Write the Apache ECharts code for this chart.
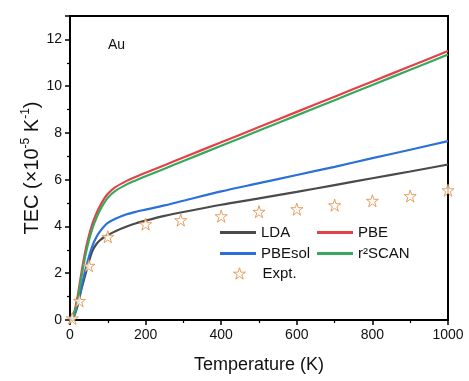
<!DOCTYPE html>
<html>
<head>
<meta charset="utf-8">
<script src="https://cdn.jsdelivr.net/npm/echarts@6/dist/echarts.min.js"></script>
<style>
  html, body { margin: 0; padding: 0; background: #fff; }
  #chart { width: 469px; height: 381px; }
</style>
</head>
<body>
<div id="chart"></div>
<script>
// temperature grid (K) for the calculated curves
const temps = [5, 10, 20, 30, 40, 50, 60, 70, 80, 90, 100, 120, 150, 175, 200, 250, 300, 400, 500, 600, 700, 800, 900, 1000];
// TEC in 1e-5 K^-1
const lda    = [0.03, 0.12, 0.6, 1.3, 1.9, 2.5, 2.98, 3.25, 3.42, 3.54, 3.63, 3.8, 4.0, 4.14, 4.25, 4.45, 4.62, 4.93, 5.2, 5.48, 5.77, 6.06, 6.35, 6.65];
const pbe    = [0.05, 0.25, 1.0, 2.0, 2.9, 3.6, 4.15, 4.57, 4.9, 5.18, 5.4, 5.68, 5.95, 6.13, 6.3, 6.62, 6.95, 7.6, 8.25, 8.9, 9.55, 10.2, 10.85, 11.5];
const pbesol = [0.03, 0.15, 0.7, 1.4, 2.1, 2.7, 3.2, 3.55, 3.8, 4.0, 4.15, 4.33, 4.52, 4.63, 4.72, 4.9, 5.1, 5.5, 5.85, 6.2, 6.55, 6.92, 7.28, 7.65];
const r2scan = [0.04, 0.2, 0.85, 1.8, 2.7, 3.4, 3.95, 4.37, 4.72, 5.0, 5.23, 5.52, 5.8, 5.98, 6.15, 6.47, 6.8, 7.45, 8.1, 8.75, 9.4, 10.05, 10.7, 11.35];
// experiment
const exptT   = [6, 25, 50, 100, 200, 293, 400, 500, 600, 700, 800, 900, 1000];
const exptTEC = [0.07, 0.82, 2.32, 3.56, 4.1, 4.27, 4.44, 4.63, 4.74, 4.91, 5.1, 5.3, 5.55];

const star = 'path://M50,0 L61.8,35.4 L99,35.4 L69,57.3 L80.4,92.7 L50,70.8 L19.6,92.7 L31,57.3 L1,35.4 L38.2,35.4 Z';
const font = 'Arial, "Liberation Sans", sans-serif';
const starColor = '#e0883a';

const pair = (xs, ys) => xs.map((x, i) => [x, ys[i]]);

const lineSeries = (name, data, color) => ({
  name: name,
  type: 'line',
  data: pair(temps, data),
  smooth: 0.3,
  showSymbol: false,
  symbol: 'none',
  lineStyle: { color: color, width: 2.2 },
  itemStyle: { color: color }
});

const legendAt = (name, left, top) => ({
  data: [name],
  left: left,
  top: top,
  padding: 0,
  icon: 'rect',
  itemWidth: 36,
  itemHeight: 3,
  itemGap: 5,
  selectedMode: false,
  textStyle: { fontSize: 15, color: '#111', fontFamily: font }
});

const myChart = echarts.init(document.getElementById('chart'));
myChart.setOption({
  animation: false,
  textStyle: { fontFamily: font },
  title: {
    text: 'Au',
    left: 103,
    top: 33,
    textStyle: { fontSize: 14, fontWeight: 'normal', color: '#111', fontFamily: font }
  },
  grid: {
    left: 70, right: 21, top: 16, bottom: 61,
    show: true, borderColor: '#000', borderWidth: 2
  },
  legend: [
    legendAt('LDA', 220, 225),
    legendAt('PBE', 317, 225),
    legendAt('PBEsol', 220, 246),
    legendAt('r²SCAN', 317, 246),
    {
      data: ['Expt.'],
      left: 233,
      top: 266,
      padding: 0,
      icon: star,
      itemWidth: 12,
      itemHeight: 12,
      itemGap: 5,
      selectedMode: false,
      itemStyle: { color: '#fff', borderColor: starColor, borderWidth: 1 },
      textStyle: { fontSize: 15, color: '#111', fontFamily: font, padding: [0, 0, 0, 12] }
    }
  ],
  xAxis: {
    type: 'value',
    min: 0, max: 1000, interval: 200,
    name: 'Temperature (K)',
    nameLocation: 'middle',
    nameGap: 36,
    nameTextStyle: { fontSize: 18, color: '#111' },
    axisLine: { lineStyle: { color: '#000', width: 2 } },
    axisTick: { inside: false, length: 5, lineStyle: { color: '#000', width: 1.5 } },
    minorTick: { show: true, splitNumber: 2, length: 3, lineStyle: { color: '#000', width: 1.2 } },
    splitLine: { show: false },
    axisLabel: { fontSize: 14, color: '#111', margin: 8, formatter: v => String(v) }
  },
  yAxis: {
    type: 'value',
    min: 0, max: 13, interval: 2,
    name: 'TEC (×10{sup|-5} K{sup|-1})',
    nameLocation: 'middle',
    nameGap: 26,
    nameMoveOverlap: false,
    nameTextStyle: {
      fontSize: 20, color: '#111', lineHeight: 24,
      rich: { sup: { fontSize: 12, color: '#111', verticalAlign: 'top', lineHeight: 24, padding: [0, 0, 9, 0] } }
    },
    axisLine: { show: true, lineStyle: { color: '#000', width: 2 } },
    axisTick: { inside: false, length: 5, lineStyle: { color: '#000', width: 1.5 } },
    minorTick: { show: true, splitNumber: 2, length: 3, lineStyle: { color: '#000', width: 1.2 } },
    splitLine: { show: false },
    axisLabel: { fontSize: 14, color: '#111', margin: 8, showMaxLabel: false }
  },
  series: [
    lineSeries('LDA', lda, '#4a4a4a'),
    lineSeries('PBE', pbe, '#e4404a'),
    lineSeries('PBEsol', pbesol, '#2a70d8'),
    lineSeries('r²SCAN', r2scan, '#3aa85c'),
    {
      name: 'Expt.',
      type: 'scatter',
      data: pair(exptT, exptTEC),
      symbol: star,
      symbolSize: 12,
      z: 5,
      itemStyle: { color: '#fff', borderColor: starColor, borderWidth: 1 }
    }
  ]
});
window.addEventListener('resize', () => myChart.resize());
</script>
</body>
</html>
